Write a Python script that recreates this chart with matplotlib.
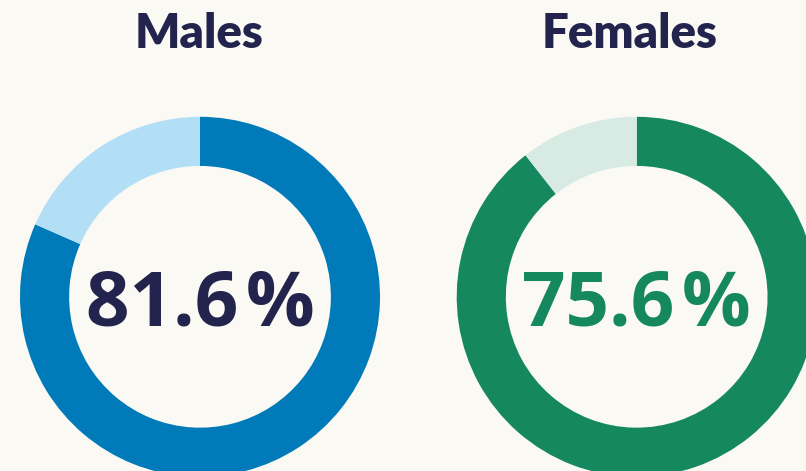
import matplotlib
matplotlib.use("Agg")
import matplotlib.pyplot as plt

W, H = 806, 471

groups = ["Males", "Females"]
labels = ["81.6\u200a%", "75.6\u200a%"]
# ring shares as drawn in the picture (filled, remainder)
males_ring = [81.6, 18.4]
females_ring = [89.4, 10.6]

males_colors = ["#007ab8", "#b3dff6"]
females_colors = ["#168860", "#d8eae4"]
label_colors = ["#22244e", "#168860"]
bg = "#faf9f4"

fig = plt.figure(figsize=(W / 100, H / 100), dpi=100, facecolor=bg)

R = 180.0
cy = 296.8


def donut(cx, right_px, title_x, values, colors, title, label, label_color):
    left_px = cx - R
    top_px = cy - R
    bottom_px = H
    ax = fig.add_axes([left_px / W, (H - bottom_px) / H,
                       (right_px - left_px) / W, (bottom_px - top_px) / H])
    ax.pie(values, colors=colors, startangle=90, counterclock=False,
           radius=1, wedgeprops=dict(width=0.273, linewidth=0))
    ax.set_aspect("auto")
    ax.set_xlim(-1, (right_px - cx) / R)
    ax.set_ylim((cy - bottom_px) / R, 1)
    ax.set_axis_off()
    ax.text(0, 0, label, ha="center", va="center_baseline", fontsize=55,
            fontweight="bold", color=label_color,
            family=["Open Sans", "DejaVu Sans"])
    fig.text(title_x / W, 1 - 34 / H, title, ha="center", va="center",
             fontsize=34, fontweight="heavy", color="#22244e", family="Lato")


donut(200.0, 377.0, 199.5, males_ring, males_colors, groups[0], labels[0], label_colors[0])
donut(636.7, 806.0, 630.0, females_ring, females_colors, groups[1], labels[1], label_colors[1])

fig.savefig("out.png", dpi=100, facecolor=bg)
